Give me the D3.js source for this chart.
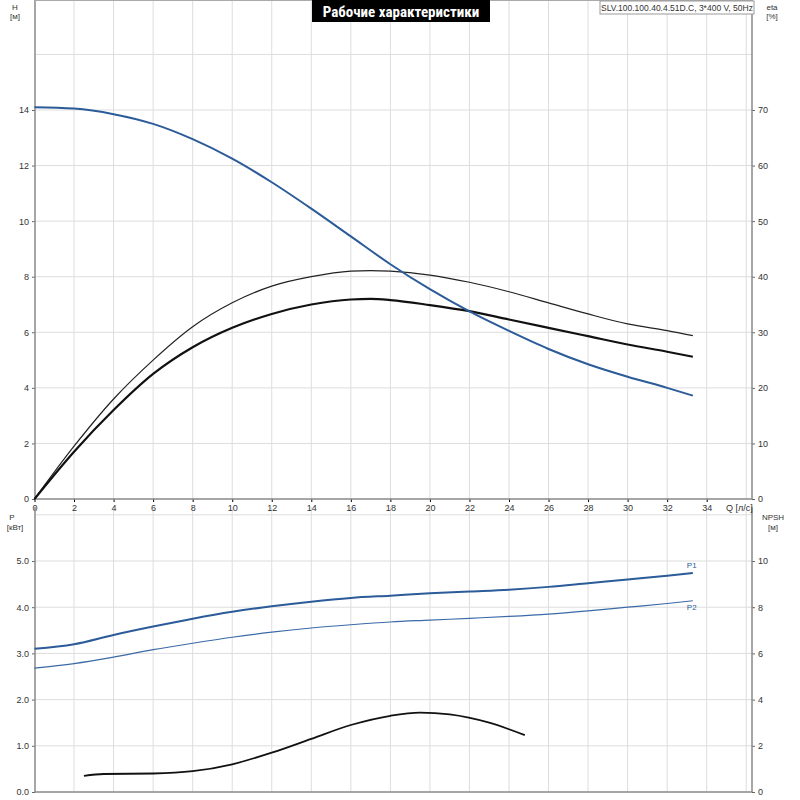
<!DOCTYPE html>
<html><head><meta charset="utf-8">
<script src="https://cdn.jsdelivr.net/npm/d3@7"></script>
<style>body{margin:0;background:#fff}text{font-family:Arial,"Liberation Sans",sans-serif}</style>
</head><body><svg id="c" width="800" height="800"></svg>
<script>
// flow values, l/s
const qH = [0,2,4,6,8,10,12,14,16,18,20,22,24,26,28,30,32,33.3];
const head = [14.1,14.05,13.85,13.5,12.95,12.25,11.4,10.45,9.45,8.45,7.55,6.75,6.05,5.4,4.85,4.4,4.0,3.72];
const qEta = [0,2,4,6,8,10,12,14,16,17,18,20,22,24,26,28,30,32,33.3];
const etaThin = [0,9.5,18,25,31,35.3,38.3,40,41,41.1,41,40.3,39,37.3,35.3,33.3,31.5,30.3,29.4];
const etaThick = [0,8.5,16,22.5,27.3,30.8,33.3,35,35.9,36,35.8,34.9,33.8,32.3,30.8,29.3,27.8,26.5,25.6];
const qP = [0,2,4,6,8,10,12,14,16,18,20,22,24,26,28,30,32,33.3];
const p1 = [3.1,3.2,3.4,3.58,3.75,3.9,4.02,4.12,4.2,4.25,4.3,4.34,4.38,4.44,4.52,4.6,4.68,4.74];
const p2 = [2.68,2.78,2.92,3.08,3.22,3.35,3.46,3.55,3.62,3.68,3.72,3.76,3.8,3.85,3.92,4.0,4.08,4.14];
const qN = [2.5,3.5,6,8,10,12,14,16,18,19.5,21,23,24.8];
const npsh = [0.7,0.78,0.8,0.9,1.2,1.7,2.3,2.9,3.3,3.44,3.36,3.0,2.46];
const qTicks = d3.range(0,36,2);

const svg = d3.select("#c");
const blue = "#2b5b98";
const L = 35, R = 752;
const x = d3.scaleLinear().domain([0,34]).range([34.5,706.7]);

// top panel
const yH = d3.scaleLinear().domain([0,14]).range([499,110]);
const yE = d3.scaleLinear().domain([0,70]).range([499,110]);
const yTop = 0, yBot = 499;

// bottom panel
const yP = d3.scaleLinear().domain([0,5]).range([792,561]);
const yN = d3.scaleLinear().domain([0,10]).range([792,561]);
const pTop = 507;

function grid(y0,y1,hvals,ys){
  svg.append("g").selectAll("line").data(qTicks.slice(1).concat([36])).join("line")
    .attr("x1",d=>x(d)).attr("x2",d=>x(d)).attr("y1",y0).attr("y2",y1)
    .attr("stroke","#ddd").attr("stroke-width",1);
  svg.append("g").selectAll("line").data(hvals).join("line")
    .attr("x1",L).attr("x2",R).attr("y1",d=>ys(d)).attr("y2",d=>ys(d))
    .attr("stroke","#ddd").attr("stroke-width",1);
}
grid(yTop,yBot,[2,4,6,8,10,12,14,16],yH);
grid(pTop,792,[1,2,3,4,5,6],yP);

// axes
const fs = "9px";
function yaxis(scale,ticks,xpos,orient){
  const a = (orient=="l"?d3.axisLeft(scale):d3.axisRight(scale)).tickValues(ticks).tickSize(3).tickSizeOuter(0);
  const g = svg.append("g").attr("transform",`translate(${xpos},0)`).call(a);
  g.select(".domain").remove();
  g.selectAll("text").style("font-size",fs).attr("fill","#333");
  g.selectAll("line").attr("stroke","#666");
}
yaxis(yH,d3.range(0,15,2),L,"l");
yaxis(yE,d3.range(0,71,10),R,"r");
yaxis(yP,[0,1,2,3,4,5],L,"l");
yaxis(yN,[0,2,4,6,8,10],R,"r");
const gx = svg.append("g").attr("transform",`translate(0,${yBot})`)
  .call(d3.axisBottom(x).tickValues(qTicks).tickSize(3).tickSizeOuter(0));
gx.select(".domain").remove();
gx.selectAll("text").style("font-size",fs).attr("fill","#333");

// frames
[[yTop,yBot],[pTop,792]].forEach(([a,b])=>{
  svg.append("line").attr("x1",L).attr("x2",L).attr("y1",a).attr("y2",b).attr("stroke","#888").attr("stroke-width",1.5);
  svg.append("line").attr("x1",R).attr("x2",R).attr("y1",a).attr("y2",b).attr("stroke","#888").attr("stroke-width",1.5);
  svg.append("line").attr("x1",L).attr("x2",R).attr("y1",b).attr("y2",b).attr("stroke","#888").attr("stroke-width",1.5);
});
svg.append("line").attr("x1",L).attr("x2",R).attr("y1",0.5).attr("y2",0.5).attr("stroke","#aaa");

// labels
function lab(t,xx,yy,anchor){svg.append("text").text(t).attr("x",xx).attr("y",yy).attr("text-anchor",anchor||"middle").style("font-size","8px").attr("fill","#333");}
lab("H",15,10);lab("[м]",15,19);
lab("eta",772,10);lab("[%]",772,19);
lab("P",12,520);lab("[кВт]",15,530);
lab("NPSH",773,520);lab("[м]",773,530);
svg.append("text").text("Q [л/с]").attr("x",726).attr("y",511).style("font-size","9px").attr("fill","#333");

// title
svg.append("rect").attr("x",312).attr("y",0).attr("width",178).attr("height",22).attr("fill","#000");
svg.append("text").text("Рабочие характеристики").attr("x",401).attr("y",17).attr("text-anchor","middle")
  .attr("fill","#fff").style("font-size","15px").style("font-weight","bold").style("font-family","'Roboto Condensed','Liberation Sans Narrow',Arial,sans-serif");
svg.append("rect").attr("x",600).attr("y",1).attr("width",154).attr("height",13).attr("fill","#fff").attr("stroke","#999");
svg.append("text").text("SLV.100.100.40.4.51D.C, 3*400 V, 50Hz").attr("x",677).attr("y",11).attr("text-anchor","middle").style("font-size","8.5px").attr("fill","#333");

// curves
function curve(qs,vs,ys,color,w){
  svg.append("path").datum(qs.map((q,i)=>[q,vs[i]]))
    .attr("d",d3.line().x(d=>x(d[0])).y(d=>ys(d[1])).curve(d3.curveMonotoneX))
    .attr("fill","none").attr("stroke",color).attr("stroke-width",w);
}
curve(qEta,etaThin,yE,"#222",1.2);
curve(qEta,etaThick,yE,"#111",2.2);
curve(qH,head,yH,blue,2);
curve(qP,p1,yP,blue,2);
curve(qP,p2,yP,"#3a6aa8",1.2);
curve(qN,npsh,yN,"#111",1.8);
svg.append("text").text("P1").attr("x",x(33.3)-6).attr("y",yP(p1[p1.length-1])-5).style("font-size","8px").attr("fill",blue);
svg.append("text").text("P2").attr("x",x(33.3)-6).attr("y",yP(p2[p2.length-1])+9).style("font-size","8px").attr("fill",blue);
</script></body></html>
